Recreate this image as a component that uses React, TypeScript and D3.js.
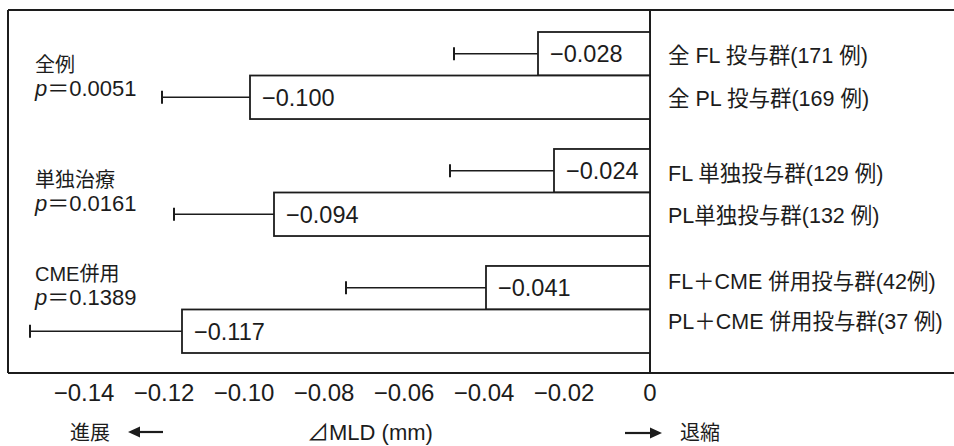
import React from "react"
import * as d3 from "d3"

// groups on the left, one p value each
const groups = ["全例", "単独治療", "CME併用"]
const pValues = ["0.0051", "0.0161", "0.1389"]

// two arms per group (FL first, PL second)
const armLabels = [
  "全 FL 投与群(171 例)",
  "全 PL 投与群(169 例)",
  "FL 単独投与群(129 例)",
  "PL単独投与群(132 例)",
  "FL＋CME 併用投与群(42例)",
  "PL＋CME 併用投与群(37 例)",
]
const means = [-0.028, -0.1, -0.024, -0.094, -0.041, -0.117]
const lowerErr = [-0.049, -0.122, -0.05, -0.119, -0.076, -0.155]
const valueLabels = ["−0.028", "−0.100", "−0.024", "−0.094", "−0.041", "−0.117"]

const ticks = [-0.14, -0.12, -0.1, -0.08, -0.06, -0.04, -0.02, 0]

const W = 954, H = 446
const FONT = "'Liberation Sans', 'Noto Sans CJK JP', sans-serif"
const INK = "#1c1c1c"

// small layout tweaks so the group labels sit where the original has them
const groupLabelShift = [0, -2, -25]
const armLabelShift = [2, 1, 3, 1, -6, -10]

const fmtTick = (t: number) => (t === 0 ? "0" : "−" + d3.format(".2f")(-t))

export default function App() {
  const x = d3.scaleLinear().domain([-0.155, 0]).range([30, 650])

  const yGroup = d3.scaleBand<string>()
    .domain(groups)
    .range([32, 353])
    .paddingInner(0.256)
  const yArm = d3.scaleBand<number>()
    .domain([0, 1])
    .range([0, yGroup.bandwidth()])

  const frameTop = 10, frameBottom = 373, frameLeft = 8
  const capY = 440

  const rows = means.map((m, i) => {
    const g = groups[Math.floor(i / 2)]
    const top = (yGroup(g) as number) + (yArm(i % 2) as number)
    return { i, m, lo: lowerErr[i], top, cy: top + yArm.bandwidth() / 2 }
  })

  return (
    <svg width={W} height={H} style={{ position: "absolute", left: 0, top: 0, background: "#fff" }}
      fontFamily={FONT} fill={INK}>
      {/* frame */}
      <g stroke={INK} strokeWidth={2} fill="none">
        <line x1={frameLeft} x2={W} y1={frameTop} y2={frameTop} />
        <line x1={frameLeft} x2={W} y1={frameBottom} y2={frameBottom} />
        <line x1={frameLeft} x2={frameLeft} y1={frameTop} y2={frameBottom} />
        <line x1={x(0)} x2={x(0)} y1={frameTop} y2={frameBottom} />
      </g>

      {/* bars + error whiskers */}
      {rows.map(r => (
        <g key={r.i}>
          <rect x={x(r.m)} y={r.top} width={x(0) - x(r.m)} height={yArm.bandwidth()}
            fill="#fff" stroke={INK} strokeWidth={1.8} />
          <line x1={x(r.lo)} x2={x(r.m)} y1={r.cy} y2={r.cy} stroke={INK} strokeWidth={1.6} />
          <line x1={x(r.lo)} x2={x(r.lo)} y1={r.cy - 6.5} y2={r.cy + 6.5} stroke={INK} strokeWidth={2} />
          <text x={x(r.m) + 12} y={r.cy} dy="0.36em" fontSize={23.5}>{valueLabels[r.i]}</text>
          <text x={668} y={r.cy + armLabelShift[r.i]} dy="0.36em" fontSize={21.5}>{armLabels[r.i]}</text>
        </g>
      ))}

      {/* group labels on the left */}
      {groups.map((g, gi) => {
        const y0 = (yGroup(g) as number) + 40 + groupLabelShift[gi]
        return (
          <g key={g}>
            <text x={35} y={y0} fontSize={20}>{g}</text>
            <text x={35} y={y0 + 24} fontSize={22}>
              <tspan fontStyle="italic">p</tspan>＝{pValues[gi]}
            </text>
          </g>
        )
      })}

      {/* tick labels */}
      {ticks.map(t => (
        <text key={t} x={x(t) - (t === 0 ? 0 : 6)} y={401} textAnchor="middle" fontSize={24}>
          {fmtTick(t)}
        </text>
      ))}

      {/* bottom axis captions */}
      <text x={70} y={capY} fontSize={20}>進展</text>
      <line x1={163} x2={134} y1={capY - 8} y2={capY - 8} stroke={INK} strokeWidth={2.2} />
      <path d={`M128,${capY - 8} L140,${capY - 13.5} L140,${capY - 2.5} Z`} fill={INK} />
      <text x={307} y={capY} fontSize={22}>⊿MLD (mm)</text>
      <line x1={625} x2={656} y1={capY - 7} y2={capY - 7} stroke={INK} strokeWidth={2.2} />
      <path d={`M662,${capY - 7} L650,${capY - 12.5} L650,${capY - 1.5} Z`} fill={INK} />
      <text x={680} y={capY} fontSize={20}>退縮</text>
    </svg>
  )
}
